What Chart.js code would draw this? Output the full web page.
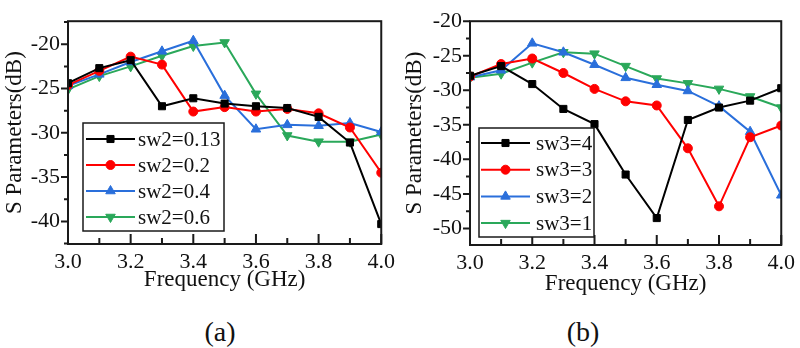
<!DOCTYPE html>
<html>
<head>
<meta charset="utf-8">
<script src="https://cdn.jsdelivr.net/npm/chart.js@4.4.1/dist/chart.umd.min.js"></script>
<style>
    body { margin: 0; background: #fff; width: 800px; height: 348px; position: relative; overflow: hidden; font-family: "Liberation Serif", serif; }
    .box { position: absolute; top: 0; width: 400px; height: 300px; }
    .cap { position: absolute; top: 317px; width: 80px; text-align: center; font-size: 28px; line-height: 30px; color: #111; }
</style>
</head>
<body>
<div class="box" style="left:0"><canvas id="chartA" width="400" height="300"></canvas></div>
<div class="box" style="left:400px"><canvas id="chartB" width="400" height="300"></canvas></div>
<div class="cap" style="left:180px">(a)</div>
<div class="cap" style="left:543px">(b)</div>
<script>
// frequency points (GHz)
const freq = [3.0, 3.1, 3.2, 3.3, 3.4, 3.5, 3.6, 3.7, 3.8, 3.9, 4.0];

// (a) S parameters vs sw2
const sw2_013 = [-24.4, -22.7, -21.8, -27.0, -26.1, -26.7, -27.0, -27.2, -28.2, -31.1, -40.3];
const sw2_02  = [-24.6, -23.0, -21.4, -22.3, -27.6, -27.1, -27.6, -27.3, -27.8, -29.4, -34.5];
const sw2_04  = [-24.7, -23.4, -22.0, -20.8, -19.6, -25.8, -29.6, -29.1, -29.2, -28.9, -29.9];
const sw2_06  = [-25.1, -23.6, -22.5, -21.3, -20.2, -19.8, -25.6, -30.3, -31.0, -31.0, -30.2];

// (b) S parameters vs sw3
const sw3_4 = [-27.9, -26.5, -29.1, -32.7, -34.9, -42.2, -48.5, -34.3, -32.5, -31.5, -29.7];
const sw3_3 = [-28.0, -26.2, -25.4, -27.5, -29.8, -31.6, -32.2, -38.4, -46.8, -36.8, -35.1];
const sw3_2 = [-28.1, -27.1, -23.2, -24.5, -26.3, -28.2, -29.2, -30.1, -32.3, -36.0, -45.2];
const sw3_1 = [-28.2, -27.6, -26.0, -24.5, -24.7, -26.5, -28.3, -29.0, -29.8, -30.9, -32.5];

const labelsA = ['sw2=0.13', 'sw2=0.2', 'sw2=0.4', 'sw2=0.6'];
const labelsB = ['sw3=4', 'sw3=3', 'sw3=2', 'sw3=1'];

// tick labels
const xTicks = [3.0, 3.2, 3.4, 3.6, 3.8, 4.0];
const yTicksA = [-40, -35, -30, -25, -20];
const yTicksB = [-50, -45, -40, -35, -30, -25, -20];

const colors = ['#000000', '#ff0000', '#2a6fdb', '#2aa85a'];
const styles = [
    { pointStyle: 'rect', radius: 5, rotation: 0 },
    { pointStyle: 'circle', radius: 4.5, rotation: 0 },
    { pointStyle: 'triangle', radius: 5.5, rotation: 0 },
    { pointStyle: 'triangle', radius: 5.5, rotation: 180 }
];

const FONT = "'Liberation Serif', serif";
Chart.defaults.font.family = FONT;
Chart.defaults.color = '#111';

function makeDatasets(series, labels) {
    return series.map((vals, i) => ({
        label: labels[i],
        data: freq.map((f, j) => ({ x: f, y: vals[j] })),
        borderColor: colors[i],
        backgroundColor: colors[i],
        borderWidth: 2,
        pointStyle: styles[i].pointStyle,
        pointRadius: styles[i].radius,
        pointRotation: styles[i].rotation,
        pointBorderWidth: 1,
        pointBackgroundColor: colors[i],
        tension: 0,
        clip: 0
    }));
}

// frame with inward x ticks and outward y ticks
const frameTicks = {
    id: 'frameTicks',
    afterDatasetsDraw(chart) {
        const { ctx, chartArea: a, scales } = chart;
        const x = scales.x, y = scales.y;
        ctx.save();
        ctx.strokeStyle = '#1a1a1a';
        ctx.lineWidth = 2;
        ctx.strokeRect(a.left, a.top, a.right - a.left, a.bottom - a.top);
        ctx.beginPath();
        for (let v = 30; v <= 40; v++) {
            const px = x.getPixelForValue(v / 10);
            const len = v % 2 === 0 ? 10 : 6;
            ctx.moveTo(px, a.bottom);
            ctx.lineTo(px, a.bottom - len);
        }
        for (let v = -55; v <= -15; v += 2.5) {
            if (v < y.min || v > y.max) continue;
            const py = y.getPixelForValue(v);
            const len = v % 5 === 0 ? 7 : 4;
            ctx.moveTo(a.left, py);
            ctx.lineTo(a.left - len, py);
        }
        ctx.stroke();
        ctx.restore();
    }
};

// boxed legend inside the plot
const boxLegend = {
    id: 'boxLegend',
    afterDraw(chart, args, o) {
        const ctx = chart.ctx;
        ctx.save();
        ctx.strokeStyle = '#1a1a1a';
        ctx.lineWidth = 1.5;
        ctx.fillStyle = '#fff';
        ctx.fillRect(o.x, o.y, o.w, o.h);
        ctx.strokeRect(o.x, o.y, o.w, o.h);
        chart.data.datasets.forEach((ds, i) => {
            const ry = o.y + o.first + i * o.step;
            ctx.strokeStyle = ds.borderColor;
            ctx.lineWidth = 2;
            ctx.beginPath();
            ctx.moveTo(o.x + o.l1, ry);
            ctx.lineTo(o.x + o.l2, ry);
            ctx.stroke();
            ctx.fillStyle = ds.borderColor;
            ctx.lineWidth = 1;
            Chart.helpers.drawPoint(ctx, {
                pointStyle: ds.pointStyle,
                radius: ds.pointRadius,
                rotation: ds.pointRotation,
                borderWidth: 1
            }, o.x + (o.l1 + o.l2) / 2, ry);
            ctx.fillStyle = '#111';
            ctx.font = '21px ' + FONT;
            ctx.textBaseline = 'middle';
            ctx.fillText(ds.label, o.x + o.tx, ry + 1);
        });
        ctx.restore();
    }
};

function makeChart(id, datasets, yMin, yMax, yTicks, lay, legend) {
    return new Chart(document.getElementById(id), {
        type: 'line',
        data: { datasets: datasets },
        plugins: [frameTicks, boxLegend],
        options: {
            responsive: false,
            animation: false,
            layout: { padding: { left: 0, right: lay.right, top: 7, bottom: 0 } },
            plugins: {
                legend: { display: false },
                tooltip: { enabled: false },
                boxLegend: legend
            },
            scales: {
                x: {
                    type: 'linear',
                    min: 3.0,
                    max: 4.0,
                    grid: { display: false, drawTicks: false },
                    border: { display: false },
                    afterBuildTicks: s => { s.ticks = xTicks.map(v => ({ value: v })); },
                    afterFit: s => { s.height = lay.xh; },
                    ticks: {
                        padding: 5,
                        color: '#111',
                        font: { family: FONT, size: 22 },
                        callback: v => v.toFixed(1)
                    },
                    title: {
                        display: true,
                        text: 'Frequency (GHz)',
                        color: '#111',
                        font: { family: FONT, size: 23 },
                        padding: { top: 0, bottom: lay.tb }
                    }
                },
                y: {
                    min: yMin,
                    max: yMax,
                    grid: { display: false, drawTicks: false },
                    border: { display: false },
                    afterBuildTicks: s => { s.ticks = yTicks.map(v => ({ value: v })); },
                    afterFit: s => { s.width = lay.yw; },
                    ticks: {
                        padding: 8,
                        color: '#111',
                        font: { family: FONT, size: 22 },
                        callback: v => String(v)
                    },
                    title: {
                        display: true,
                        text: 'S Parameters(dB)',
                        color: '#111',
                        font: { family: FONT, size: 23 },
                        padding: { top: 1, bottom: 0 }
                    }
                }
            }
        }
    });
}

makeChart('chartA',
    makeDatasets([sw2_013, sw2_02, sw2_04, sw2_06], labelsA),
    -42.55, -17.4, yTicksA,
    { right: 18, xh: 56, yw: 68, tb: 6 },
    { x: 83, y: 123, w: 141, h: 108, first: 16, step: 26, l1: 3, l2: 52, tx: 55 });

makeChart('chartB',
    makeDatasets([sw3_4, sw3_3, sw3_2, sw3_1], labelsB),
    -52.4, -20, yTicksB,
    { right: 15, xh: 55, yw: 70, tb: 2 },
    { x: 79, y: 128, w: 115, h: 109, first: 15, step: 26.7, l1: 2, l2: 51, tx: 57 });
</script>
</body>
</html>
